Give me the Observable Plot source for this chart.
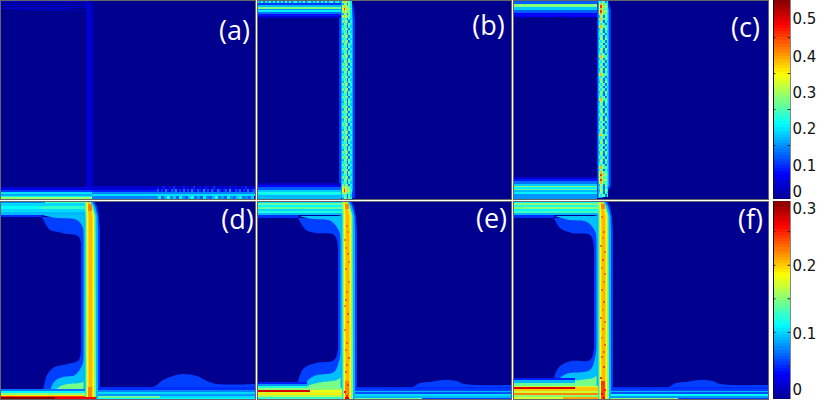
<!DOCTYPE html>
<html><head><meta charset="utf-8">
<script src="https://cdn.jsdelivr.net/npm/d3@7"></script>
<script src="https://cdn.jsdelivr.net/npm/@observablehq/plot@0.6"></script>
<style>
html,body{margin:0;padding:0;background:#fff}
#chart{position:relative;width:830px;height:400px;overflow:hidden}
#chart>div{position:absolute}
svg{display:block;overflow:visible !important}
</style></head><body><div id="chart"></div>
<script>
// colour scale: jet
const jetStops=[0,.125,.375,.625,.875,1];
const jetColors=["#00008f","#0000ff","#00ffff","#ffff00","#ff0000","#800000"];
const topMax=.553, bottomMax=.295;
const topTickValues=[.05,.15,.25,.35,.45], bottomTickValues=[.05,.1,.15,.2,.25];
const topLabels=["0","0.1","0.2","0.3","0.4","0.5"], topLabelAt=[.02,.092,.195,.296,.395,.5];
const bottomLabels=["0","0.1","0.2","0.3"], bottomLabelAt=[.0134,.097,.198,.283];
const panelLetters=["(a)","(b)","(c)","(d)","(e)","(f)"];

// bands: [x1,x2,y1,y2,value] in heat-map cells
const aBands=[[0,88,3,4,.025],[0,88,5,6,.04],[6,88,7,8,.03],[0,70,8,9,.04],[20,88,10,11,.025],
 [86,94,6,187,.022],[87,90,2,188,.045],[90,92,2,188,.032],
 [92,255,186,190,.04],[92,255,190,192,.085],[92,255,192,194,.14],[92,255,194,196,.19],[92,155,196,199,.14],
 [0,92,187,190,.05],[0,92,190,192,.1],[0,92,192,194,.19],[0,92,194,196,.16],[0,92,196,197,.21],[0,92,197,199,.29]];
const aTopSpeckle=[.04,.02,.05,.03,.04,.02,.03,.05,.02,.04,.03,.05,.02,.04,.03,.02,.04,.05,.03,.04,.02,.05];
const aSpeckle1=[.03,.06,.02,.05,.08,.03,.02,.06,.03,.09,.04,.02,.05,.02,.08,.03,.06,.02,.04,.09,.03,.02,.07,.04,.02,.08,.05,.02,.03,.09,.04,.02,.06,.03,.07,.02,.05,.08,.02,.04,.07,.03,.02,.06,.04,.09,.02,.05,.03,.07];
const aSpeckle2=[.08,.12,.05,.1,.06,.14,.08,.05,.12,.09,.15,.05,.1,.07,.13,.06,.11,.05,.14,.08,.06,.12,.09,.05,.15,.07,.11,.05,.13,.08,.06,.14,.1,.05,.09,.12,.06,.15,.07,.05,.11,.08,.13,.05,.1,.07,.14,.06,.09,.12];
const aSpeckle3=[.14,.2,.12,.17,.22,.14,.18,.12,.2,.15,.12,.18,.21,.13,.16,.12,.2,.14,.12,.17,.22,.13,.16,.12,.2,.15,.13,.18,.2,.13,.15,.12,.18];

const bBands=[[0,84,3,5,.1],[0,84,5,7,.17],[0,84,7,9,.27],[0,84,9,10,.15],[0,84,10,12,.2],[0,84,12,14,.13],[0,84,14,16,.08],[0,84,16,18,.045],
 [0,84,183,185,.03],[0,84,185,187,.07],[0,84,187,190,.12],[0,84,190,192,.18],[0,84,192,194,.22],[0,84,194,195,.2],[0,84,195,199,.17]];
const bTopSpeckle=[.2,.15,.24,.13,.2,.16,.25,.14,.21,.13,.23,.15,.2,.13,.25,.14,.22,.13,.2,.23,.14,.2,.15,.24,.13,.19,.23,.14,.2,.16,.24,.13,.21,.15,.23,.14,.2,.25,.13,.19,.22,.14];
const cBands=[[0,84,1,4,.12],[0,84,4,7,.28],[0,84,7,10,.18],[0,84,10,13,.12],[0,84,13,16.5,.065],
 [0,84,177,179,.04],[0,84,179,181,.08],[0,84,181,184,.13],[0,84,184,186,.18],[0,84,186,187,.28],[0,84,187,189,.2],[0,84,189,190,.26],[0,84,190,192,.17],[0,84,192,194,.2],[0,84,194,199,.15]];
const cTopSpeckle=[.1,.17,.06,.14,.2,.08,.16,.05,.13,.18,.07,.15,.2,.09,.14,.06,.18,.1,.16,.07,.13,.19,.08,.15,.06,.17,.12,.09];
const cScallop=[[0,16],[5,17],[10,18],[15,17],[20,16],[27,16],[33,18],[38,17],[45,16],[52,16],[58,18],[64,17],[70,16],[76,17],[82,18],[84,17]];

// wall outlines: [y,x1,x2]
const wallOuterB=[[0,83,94],[8,83,97],[20,82,98],[198,82,98]];
const wallInnerB=[[0,84,92],[8,84,95],[20,84,96],[190,84,96],[198,84,93]];
const wallRowTemplates={A:[.2,.28,.22,.12,.24,.18],B:[.26,.2,.3,.24,.13,.22],C:[.17,.3,.26,.14,.28,.2],D:[.3,.38,.3,.24,.26,.2],E:[.34,.46,.36,.26,.3,.22]};
const wallSeqB="DCDEDCDABCABACBABCABACBACBABCABACBABCABACABCBABCABACBABCABACBABCABABCABCABDEDAC";
const wallSeqC="BDEDEDCDABDCABACBABCABDCBABCADBACBABCABDCABACBACBABCADBACBABCABCABDADEDEDCACAB";
const wallOuterC=[[0,84,95],[10,84,98],[186,84,98],[194,84,93],[198,84,90]];
const wallInnerC=[[0,85,93],[10,85,96],[186,85,96],[194,85,92],[198,85,89]];

// lower row: [y,x-start] outlines of the spread regions
const dBlob=[[16,42],[22,45],[29,50],[31,58],[33,67],[35,78],[42,81],[54,82],[150,81],[156,80],[160,78],[163,67],[167,53],[174,47],[180,45],[190,43],[198,43]];
const dCyanTop=[[14,42],[17,57],[19,77],[27,83],[40,84]];
const dCyanBottom=[[150,84],[162,83],[174,75],[176,63],[180,55],[190,50],[198,50]];
const dGreenBottom=[[178,84],[181,83],[184,63],[189,55],[192,52],[198,52]];
const eBlob=[[17,41],[29,49],[32,59],[34,77],[47,81],[147,81],[159,77],[162,59],[167,47],[181,41],[198,41]];
const eCyanTop=[[15,42],[18,56],[20,74],[30,82],[42,84]];
const eCyanBottom=[[148,84],[160,82],[171,77],[175,57],[182,49],[198,49]];
const eGreenBottom=[[176,84],[179,80],[182,60],[186,50],[198,50]];
const fBlob=[[17,41],[27,47],[32,59],[34,77],[47,81],[147,81],[159,77],[160,59],[165,47],[177,41],[198,41]];
const fCyanTop=[[15,42],[19,56],[21,74],[30,82],[42,84]];
const fCyanBottom=[[145,84],[157,82],[169,77],[173,53],[179,46],[198,46]];
const fGreenBottom=[[174,84],[177,80],[180,60],[184,48],[198,48]];
// right-hand lobe: [x,y-start]
const dLobe=[[98,186],[153,186],[163,179],[173,175],[183,173],[197,175],[207,180],[217,183],[255,183]];
const eLobe=[[98,187],[153,187],[163,182],[173,181],[187,179],[200,180],[207,183],[255,184]];
const fLobe=[[98,187],[153,187],[163,182],[173,181],[187,179],[200,180],[207,183],[255,184]];
// wall layers shared by lower row: [value,[[y,x1,x2],...]]
const wallBase=[[0,84,94],[5,83,97],[15,82,99],[30,81,100],[198,81,100]];
const lowerWall=[
 [.09,[[0,84,92],[5,84,95],[15,84,97.5],[30,83.5,98],[198,83.5,98]]],
 [.145,[[0,85,90],[5,85,93],[15,85.5,95.5],[198,85.5,96]]],
 [.185,[[0,86.5,89],[5,86.5,91],[15,87,94],[198,87,94]]],
 [.205,[[0,87.5,89],[5,88,90],[15,88.5,92.5],[198,88.5,92.5]]]
];
const dBands=[[0,85,0,2,.075],[45,85,0,2,.13],[0,85,2,5,.1],[40,85,5,8,.125],[0,40,5,8,.11],[0,85,8,11,.1],[0,85,11,14,.09],[0,42,14,16,.05],
 [0,85,188,190,.07],[0,85,190,192,.11],[0,85,192,193.5,.15],[0,85,193.5,195,.19],[0,85,195,196,.24],[0,55,196,198,.29],[55,96,196,198,.26],
 [98,255,186,189,.05],[98,255,189,191,.075],[98,255,191,193,.1],[98,255,193,195,.08],[98,160,195,197,.14],[160,255,195,197,.1],[98,255,197,198,.11],
 [88,92,3,10,.22],[88,92,186,196,.22]];
const eBands=[[0,85,0,2,.1],[0,85,2,4,.14],[0,85,4,6,.11],[0,85,6,8,.14],[0,85,8,10,.1],[0,85,10,12,.12],[0,85,12,14,.09],[0,41,14,17,.05],
 [0,50,181,183,.045],[0,50,183,185,.08],[0,50,185,187,.12],[0,85,187,189,.15],[0,53,189,190.5,.27],[53,85,189,190.5,.18],[0,85,190.5,192,.17],[0,85,192,194,.19],[0,85,194,196,.16],[0,85,196,198,.125],
 [98,255,186,188,.05],[98,255,190,191,.09],[98,255,191,193,.06],[98,255,193,195,.1],[98,255,195,197,.09],[98,165,197,198,.14],
 [88,92,196,198,.27],[88,92,3,8,.22],[88,92,180,195,.22]];
const fBands=[[0,85,0,2,.11],[0,85,2,4,.15],[0,85,4,6,.12],[0,85,6,8,.15],[0,85,8,10,.11],[0,85,10,12,.13],[0,85,12,14,.09],[0,41,14,17,.05],
 [0,62,177,179,.045],[0,62,179,182,.09],[0,62,182,185,.14],[0,85,185,186,.17],[0,62,186,188,.27],[62,85,186,188,.2],[0,85,188,190,.2],[0,85,190,192,.17],[0,85,192,194,.22],[0,85,194,196,.15],[50,85,196,198,.21],[0,50,196,198,.17],
 [98,255,186,188,.05],[98,255,190,191,.09],[98,255,191,193,.06],[98,255,193,195,.11],[98,255,195,197,.08],[98,165,197,198,.15],
 [88,92,180,198,.24],[88,92,3,8,.22]];
// hot spots in the wall: [x,y,value]
const eHot=[[89,24,.225],[87,38,.22],[90,52,.23],[88,67,.225],[91,80,.22],[88,98,.23],[90,112,.235],[87,128,.22],[89,141,.23],[91,156,.235],[88,170,.23],[90,183,.24],[87,190,.25],[89,194,.25],[90,30,.22],[88,46,.225],[91,60,.22],[89,90,.225],[87,104,.22],[90,120,.23],[88,148,.225],[89,163,.23]];
const fHot=[[88,15,.225],[90,30,.23],[87,44,.225],[89,58,.235],[91,72,.225],[88,88,.23],[90,100,.235],[87,116,.225],[89,127,.23],[91,143,.23],[88,155,.23],[90,165,.24],[87,176,.245],[89,182,.25],[91,188,.25],[88,192,.26],[90,196,.26],[89,36,.22],[91,50,.225],[88,66,.22],[90,80,.225],[89,108,.22],[91,120,.225],[88,136,.22],[90,150,.23]];

const strip=(vals,x0,dx,y1,y2)=>vals.map((v,i)=>[x0+i*dx,x0+(i+1)*dx,y1,y2,v]);
const wallGrid=(seq,tpl,x0,dx,dy)=>[...seq].flatMap((ch,r)=>tpl[ch].map((v,c)=>[x0+c*dx,x0+(c+1)*dx,r*dy,(r+1)*dy,v]));
const rects=rows=>Plot.rect(rows,{x1:d=>d[0],x2:d=>d[1],y1:d=>d[2],y2:d=>d[3],fill:d=>d[4],shapeRendering:"crispEdges",clip:true});
const spread=(rows,v,end)=>Plot.areaX(rows,{y:d=>d[0],x1:d=>d[1],x2:()=>end,fill:()=>v,curve:"catmull-rom"});
const wallArea=(rows,v)=>Plot.areaX(rows,{y:d=>d[0],x1:d=>d[1],x2:d=>d[2],fill:()=>v});
const lobe=(rows,v)=>Plot.areaY(rows,{x:d=>d[0],y1:d=>d[1],y2:()=>198,fill:()=>v,curve:"catmull-rom"});
const hot=rows=>Plot.rect(rows,{x1:d=>d[0],x2:d=>d[0]+1.5,y1:d=>d[1],y2:d=>d[1]+1.5,fill:d=>d[2],shapeRendering:"crispEdges"});
const jet=max=>({type:"linear",domain:jetStops.map(s=>s*max),range:jetColors,clamp:true});

function panel(left,top,w,h,max,marks,letter,lx,ly){
  const svg=Plot.plot({width:w,height:h,margin:0,
    x:{domain:[0,w],axis:null},y:{domain:[h,0],axis:null},color:jet(max),
    style:{background:"transparent"},
    marks:[
      Plot.rect([0],{x1:()=>0,x2:()=>w,y1:()=>0,y2:()=>h,fill:()=>0}),
      ...marks,
      Plot.frame({stroke:"#666",strokeWidth:1}),
      Plot.text([letter],{x:()=>lx,y:()=>ly,text:d=>d,fill:"white",fontSize:27,fontFamily:"Open Sans"})
    ]});
  const box=document.createElement("div");box.style.left=left+"px";box.style.top=top+"px";box.append(svg);
  document.getElementById("chart").append(box);
}
function colorbar(top,h,max,ticks,labels,labelAt){
  const levels=d3.range(64);
  const svg=Plot.plot({width:57,height:h,margin:0,marginRight:40,
    x:{domain:[0,1],axis:null},y:{domain:[0,max],axis:null},color:jet(max),
    style:{background:"transparent"},
    marks:[
      Plot.rect(levels,{x1:()=>0,x2:()=>1,y1:i=>i*max/64,y2:i=>(i+1)*max/64,fill:i=>(i+.5)*max/64,shapeRendering:"crispEdges"}),
      Plot.ruleY(ticks,{y:d=>d,x1:()=>0,x2:()=>.14,stroke:"#222"}),
      Plot.ruleY(ticks,{y:d=>d,x1:()=>.86,x2:()=>1,stroke:"#222"}),
      Plot.ruleX([0],{x:d=>d,stroke:"#111"}),
      Plot.ruleX([1],{x:d=>d,stroke:"#888"}),
      Plot.text(labelAt,{x:()=>1,y:d=>d,dx:2,text:(d,i)=>labels[i],textAnchor:"start",fill:"#111",fontSize:15,fontFamily:"DejaVu Sans"})
    ]});
  const box=document.createElement("div");box.style.left="773px";box.style.top=top+"px";box.append(svg);
  document.getElementById("chart").append(box);
}

panel(0,0,255,199,topMax,[
  rects(strip(aTopSpeckle,0,4,0,2)),rects(aBands),
  rects(strip(aSpeckle1,155,2,186,189)),rects(strip(aSpeckle2,155,2,189,192)),
  rects(strip(aSpeckle3,155,3,196,199))
],panelLetters[0],234,31);
panel(257,0,254,199,topMax,[
  wallArea(wallOuterB,.1),wallArea(wallInnerB,.16),
  rects(strip(bTopSpeckle,0,2,0,3)),rects(bBands),
  rects(wallGrid(wallSeqB,wallRowTemplates,85,1.6,2.52))
],panelLetters[1],231,26);
panel(513,0,255,199,topMax,[
  wallArea(wallOuterC,.1),wallArea(wallInnerC,.16),
  Plot.areaY(cScallop,{x:d=>d[0],y1:()=>0,y2:d=>d[1],fill:()=>.04}),
  rects(strip(cTopSpeckle,0,3,0,1)),rects(cBands),
  rects(wallGrid(wallSeqC,wallRowTemplates,85.5,1.6,2.52))
],panelLetters[2],232,28);

function lower(left,w,blob,cyanT,cyanB,greenB,lobeRows,bands,hotRows,letter,lx,ly){
  panel(left,201,w,198,bottomMax,[
    wallArea(wallBase,.055),
    spread(blob,.055,90),spread(cyanT,.092,90),spread(cyanB,.092,90),spread(greenB,.145,90),
    lobe(lobeRows,.055),
    ...lowerWall.map(([v,rows])=>wallArea(rows,v)),
    rects(bands),hot(hotRows)
  ],letter,lx,ly);
}
lower(0,255,dBlob,dCyanTop,dCyanBottom,dGreenBottom,dLobe,dBands,[],panelLetters[3],237,19);
lower(257,254,eBlob,eCyanTop,eCyanBottom,eGreenBottom,eLobe,eBands,eHot,panelLetters[4],234,18);
lower(513,255,fBlob,fCyanTop,fCyanBottom,fGreenBottom,fLobe,fBands,fHot,panelLetters[5],237,19);

colorbar(0,199,topMax,topTickValues,topLabels,topLabelAt);
colorbar(201,198,bottomMax,bottomTickValues,bottomLabels,bottomLabelAt);
</script></body></html>
